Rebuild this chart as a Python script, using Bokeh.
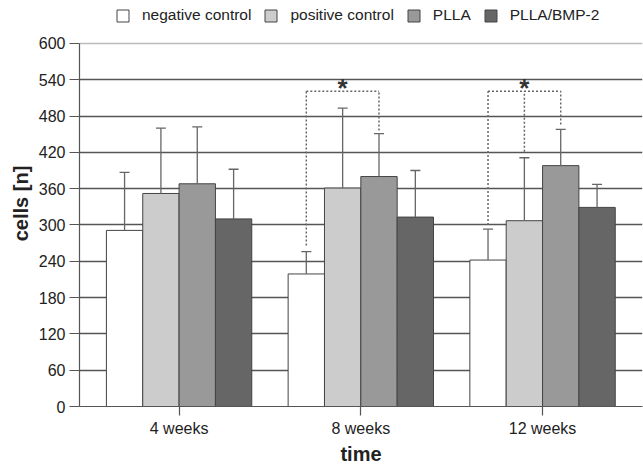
from bokeh.plotting import figure
from bokeh.models import (ColumnDataSource, Whisker, TeeHead, Legend, LegendItem,
                          FixedTicker, Span, Range1d)
from bokeh.core.properties import value
from bokeh.embed import file_html
from bokeh.resources import INLINE

# ---------------- data ----------------
groups = ["4 weeks", "8 weeks", "12 weeks"]
group_pos = [1, 2, 3]
series = ["negative control", "positive control", "PLLA", "PLLA/BMP-2"]

neg_mean = [291, 219, 242]
neg_sd = [96, 37, 51]
pos_mean = [352, 361, 307]
pos_sd = [108, 132, 104]
plla_mean = [368, 380, 398]
plla_sd = [94, 71, 60]
bmp_mean = [310, 313, 329]
bmp_sd = [82, 77, 38]

y_ticks = [0, 60, 120, 180, 240, 300, 360, 420, 480, 540, 600]

# significance brackets (group index, bracket top, leg ends)
sig_group = [2, 3]
sig_top = [521, 521]
sig_left_end = [266, 300]
sig_mid_end = [None, 421]
sig_right_end = [456, 466]

colors = ["#ffffff", "#cccccc", "#999999", "#666666"]
offsets = [-0.3, -0.1, 0.1, 0.3]
bar_w = 0.2
FONT = "Liberation Sans"

means = [neg_mean, pos_mean, plla_mean, bmp_mean]
sds = [neg_sd, pos_sd, plla_sd, bmp_sd]

# frame spans the full height above the x axis; extra headroom holds the legend
FRAME_H = 407
TOP_PX = 43
y_top = y_ticks[-1] * FRAME_H / (FRAME_H - TOP_PX)

p = figure(width=643, height=467, x_range=Range1d(0.452, 3.55), y_range=Range1d(0, y_top),
           output_backend="svg", toolbar_location=None,
           min_border_left=79, min_border_right=1, min_border_top=0, min_border_bottom=60)
p.outline_line_color = None
p.background_fill_color = "white"

# grid
p.xgrid.visible = False
p.ygrid.ticker = FixedTicker(ticks=y_ticks[1:-1])
p.ygrid.grid_line_color = "#555555"
p.ygrid.grid_line_width = 1.3
p.add_layout(Span(location=y_ticks[-1], dimension="width", line_color="#bbbbbb",
                  line_width=1.5, level="underlay"))

renderers = []
for i, s in enumerate(series):
    xs = [g + offsets[i] for g in group_pos]
    src = ColumnDataSource(dict(x=xs, top=means[i],
                                upper=[m + d for m, d in zip(means[i], sds[i])]))
    r = p.vbar(x="x", top="top", width=bar_w, source=src, fill_color=colors[i],
               line_color="#444444", line_width=1)
    renderers.append(r)
    w = Whisker(base="x", lower="top", upper="upper", source=src, line_color="#666666",
                line_width=1.3, level="annotation",
                upper_head=TeeHead(size=10, line_color="#666666", line_width=1.3),
                lower_head=None)
    p.add_layout(w)

# significance brackets
bx0, by0, bx1, by1 = [], [], [], []
star_x, star_y = [], []
for g, top, le, me, re in zip(sig_group, sig_top, sig_left_end, sig_mid_end, sig_right_end):
    xl = g + offsets[0]
    xm = g + offsets[1]
    xr = g + offsets[2]
    bx0 += [xl, xl, xr]
    by0 += [top, le, re]
    bx1 += [xr, xl, xr]
    by1 += [top, top, top]
    if me is not None:
        bx0.append(xm); by0.append(me); bx1.append(xm); by1.append(top)
    star_x.append(xm)
    star_y.append(top)
p.segment(x0=bx0, y0=by0, x1=bx1, y1=by1, line_color="#666666", line_width=1.5,
          line_dash="2 2")
p.text(x=star_x, y=star_y, text=["*"] * len(star_x), text_align="center",
       text_baseline="alphabetic", y_offset=-3, text_font=value(FONT),
       text_font_size="26px", text_font_style="bold", text_color="#333333")

# axes
p.xaxis.ticker = FixedTicker(ticks=group_pos)
p.xaxis.major_label_overrides = {g: lab for g, lab in zip(group_pos, groups)}
p.yaxis.ticker = FixedTicker(ticks=y_ticks)
p.yaxis.bounds = (y_ticks[0], y_ticks[-1])
for ax in (p.xaxis[0], p.yaxis[0]):
    ax.axis_line_color = "#555555"
    ax.axis_line_width = 1.2
    ax.major_tick_line_color = "#555555"
    ax.major_tick_line_width = 1.2
    ax.major_tick_in = 0
    ax.minor_tick_line_color = None
    ax.major_label_text_font = FONT
    ax.major_label_text_font_size = "16px"
    ax.major_label_text_color = "#222222"
    ax.axis_label_text_font = FONT
    ax.axis_label_text_font_size = "20px"
    ax.axis_label_text_font_style = "bold"
    ax.axis_label_text_color = "#222222"
p.xaxis.major_tick_out = 9
p.yaxis.major_tick_out = 10
p.xaxis.major_label_standoff = 4
p.yaxis.major_label_standoff = 4
p.xaxis.axis_label = "time"
p.yaxis.axis_label = "cells [n]"
p.xaxis.axis_label_standoff = 3
p.yaxis.axis_label_standoff = 4

legend = Legend(items=[LegendItem(label=s, renderers=[r]) for s, r in zip(series, renderers)],
                orientation="horizontal", location=(36, 382), glyph_width=15, glyph_height=15,
                label_standoff=12, spacing=12, padding=0, margin=0,
                border_line_color=None, background_fill_alpha=0,
                label_text_font=FONT, label_text_font_size="15.5px",
                label_text_color="#222222", label_height=15)
p.add_layout(legend)

open("out.html", "w").write(file_html(p, INLINE))
